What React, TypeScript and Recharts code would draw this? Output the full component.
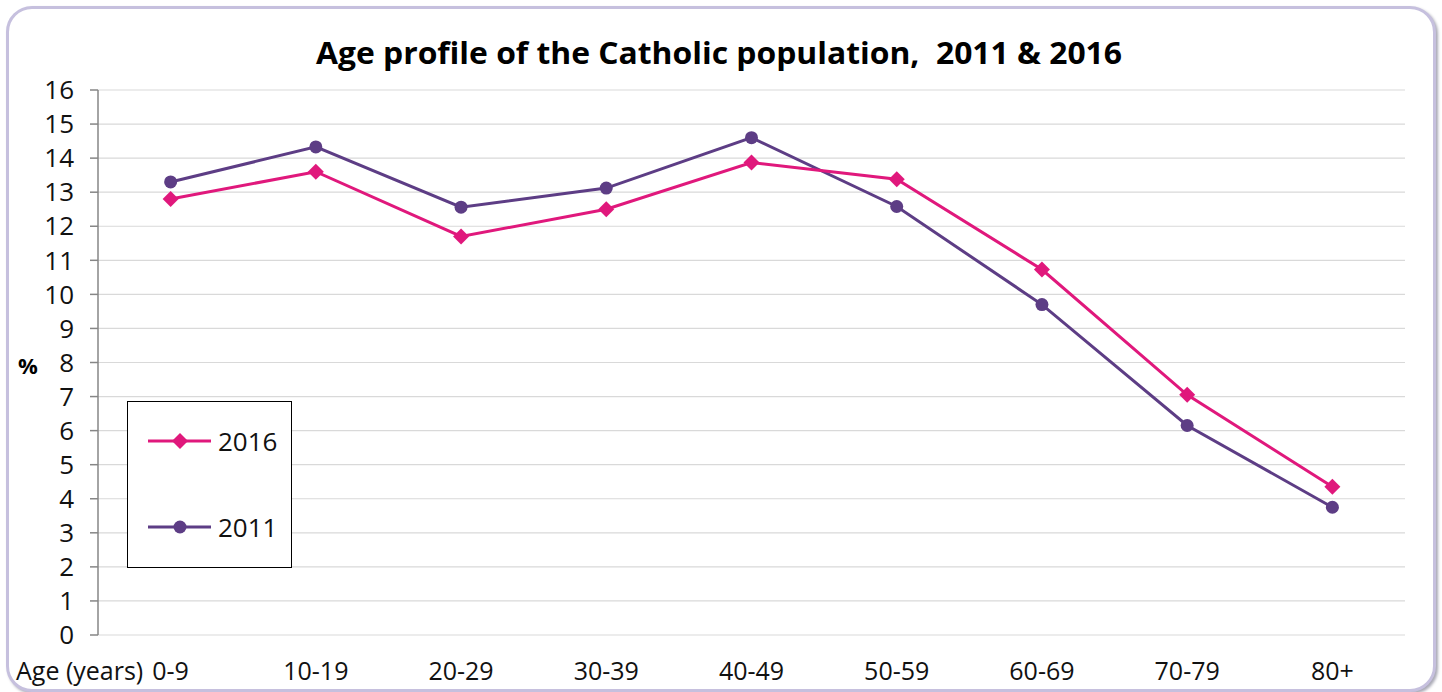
import React from 'react';
import { LineChart, Line, XAxis, YAxis, CartesianGrid, Legend } from 'recharts';

const ageGroups = ['0-9', '10-19', '20-29', '30-39', '40-49', '50-59', '60-69', '70-79', '80+'];
const pct2016 = [12.8, 13.6, 11.7, 12.5, 13.87, 13.38, 10.73, 7.05, 4.35];
const pct2011 = [13.3, 14.33, 12.56, 13.12, 14.6, 12.58, 9.7, 6.15, 3.75];
const yTicks = [0, 1, 2, 3, 4, 5, 6, 7, 8, 9, 10, 11, 12, 13, 14, 15, 16];
const boundaryTicks = [0, 1, 2, 3, 4, 5, 6, 7, 8, 9];

const COLOR_2016 = '#e0187c';
const COLOR_2011 = '#5d3d85';
const AXIS = '#868686';
const FONT = "'Open Sans', sans-serif";

const data = ageGroups.map((age, i) => ({ age, y2016: pct2016[i], y2011: pct2011[i] }));

const Diamond = (props: any) => {
  const { cx, cy } = props;
  if (cx == null || cy == null) return null;
  const r = 8;
  return <path d={`M${cx},${cy - r}L${cx + r},${cy}L${cx},${cy + r}L${cx - r},${cy}Z`} fill={COLOR_2016} />;
};

const Circle = (props: any) => {
  const { cx, cy } = props;
  if (cx == null || cy == null) return null;
  return <circle cx={cx} cy={cy} r={6.5} fill={COLOR_2011} />;
};

const LegendBox = () => (
  <div
    style={{
      width: 165,
      height: 167,
      border: '1.5px solid #000',
      boxSizing: 'border-box',
      background: '#fff',
      position: 'relative',
    }}
  >
    <svg width={165} height={167} style={{ position: 'absolute', left: -1.5, top: -1.5 }}>
      <line x1={21} x2={84} y1={40} y2={40} stroke={COLOR_2016} strokeWidth={3} />
      <path d="M53,32L61,40L53,48L45,40Z" fill={COLOR_2016} />
      <text x={91} y={49.5} fontSize={26} fill="#111" fontFamily={FONT}>2016</text>
      <line x1={21} x2={84} y1={126} y2={126} stroke={COLOR_2011} strokeWidth={3} />
      <circle cx={53} cy={126} r={6.5} fill={COLOR_2011} />
      <text x={91} y={135.5} fontSize={26} fill="#111" fontFamily={FONT}>2011</text>
    </svg>
  </div>
);

export default function App() {
  return (
    <div style={{ position: 'absolute', left: 0, top: 0, width: 1442, height: 692, background: '#fff' }}>
      <div
        style={{
          position: 'absolute',
          left: 6,
          top: 6,
          width: 1424,
          height: 680,
          border: '3px solid #c6c0de',
          borderRadius: 26,
          boxShadow: '2px 2px 3px #a9a9b5',
          background: '#fff',
        }}
      />
      <svg width={1442} height={692} style={{ position: 'absolute', left: 0, top: 0 }}>
        <text
          x={719}
          y={63.5}
          textAnchor="middle"
          fontFamily={FONT}
          fontWeight={700}
          fontSize={31}
          fill="#000"
          textLength={806}
          lengthAdjust="spacingAndGlyphs"
          style={{ whiteSpace: 'pre' }}
        >
          {'Age profile of the Catholic population,  2011 & 2016'}
        </text>
        <text x={18} y={374} fontFamily={FONT} fontWeight={700} fontSize={22} fill="#000">%</text>
        <text x={16} y={680} fontFamily={FONT} fontSize={25} fill="#111">Age (years)</text>
      </svg>
      <div style={{ position: 'absolute', left: 0, top: 0 }}>
        <LineChart
          width={1442}
          height={692}
          data={data}
          margin={{ top: 90, right: 37, bottom: 27, left: 38 }}
        >
          <CartesianGrid vertical={false} stroke="#d9d9d9" strokeWidth={1.2} />
          <XAxis
            xAxisId="frame"
            type="number"
            domain={[0, 9]}
            ticks={boundaryTicks}
            tick={false}
            height={0}
            tickSize={8}
            stroke={AXIS}
            axisLine={{ stroke: AXIS, strokeWidth: 1.5 }}
            tickLine={{ stroke: AXIS, strokeWidth: 1.5 }}
          />
          <XAxis
            xAxisId="cat"
            dataKey="age"
            scale="band"
            height={30}
            axisLine={false}
            tickLine={false}
            tickSize={8}
            tickMargin={19}
            interval={0}
            tick={{ fontSize: 25, fill: '#111', fontFamily: FONT }}
          />
          <YAxis
            width={60}
            domain={[0, 16]}
            ticks={yTicks}
            interval={0}
            tickSize={8}
            tickMargin={16}
            axisLine={{ stroke: AXIS, strokeWidth: 1.5 }}
            tickLine={{ stroke: AXIS, strokeWidth: 1.5 }}
            tick={{ fontSize: 26, fill: '#111', fontFamily: FONT }}
          />
          <Legend
            layout="vertical"
            align="center"
            verticalAlign="middle"
            wrapperStyle={{ left: 127, top: 401, width: 165, height: 167 }}
            content={() => <LegendBox />}
          />
          <Line
            xAxisId="cat"
            type="linear"
            dataKey="y2011"
            stroke={COLOR_2011}
            strokeWidth={3}
            dot={<Circle />}
            activeDot={false}
            isAnimationActive={false}
          />
          <Line
            xAxisId="cat"
            type="linear"
            dataKey="y2016"
            stroke={COLOR_2016}
            strokeWidth={3}
            dot={<Diamond />}
            activeDot={false}
            isAnimationActive={false}
          />
        </LineChart>
      </div>
    </div>
  );
}
